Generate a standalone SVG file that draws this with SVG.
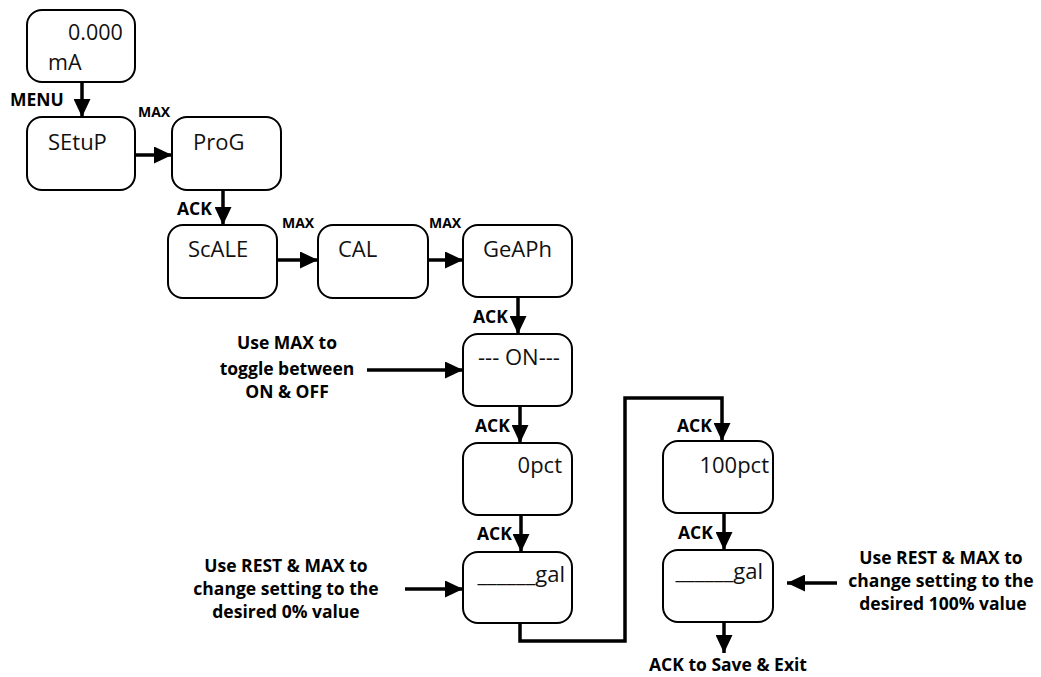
<svg xmlns="http://www.w3.org/2000/svg" width="1041" height="677" viewBox="0 0 1041 677">
<style>
.box{fill:#fff;stroke:#000;stroke-width:2}
.t{font-family:"Open Sans","Liberation Sans",sans-serif;font-size:22px;fill:#111}
.s{font-family:"Open Sans","Liberation Sans",sans-serif;font-size:21.5px;fill:#111}
.b{font-family:"Open Sans","Liberation Sans",sans-serif;font-weight:bold;font-size:17.5px;fill:#000}
.m{font-family:"Open Sans","Liberation Sans",sans-serif;font-weight:bold;font-size:14px;fill:#000}
.n{font-family:"Open Sans","Liberation Sans",sans-serif;font-weight:bold;font-size:17.5px;fill:#000;text-anchor:middle}
.c{fill:none;stroke:#000;stroke-width:3.5}
</style>
<defs>
<marker id="ah" viewBox="0 0 18 17" refX="18" refY="8.5" markerWidth="18" markerHeight="17" markerUnits="userSpaceOnUse" orient="auto">
<path d="M0,0 L18,8.5 L0,17 Z" fill="#000"/>
</marker>
</defs>
<rect width="1041" height="677" fill="#fff"/>
<g id="connectors">
<line class="c" x1="82" y1="82" x2="82" y2="117" marker-end="url(#ah)"/>
<line class="c" x1="135" y1="155" x2="172" y2="155" marker-end="url(#ah)"/>
<line class="c" x1="223" y1="190" x2="223" y2="225" marker-end="url(#ah)"/>
<line class="c" x1="277" y1="260" x2="318" y2="260" marker-end="url(#ah)"/>
<line class="c" x1="428" y1="260" x2="463" y2="260" marker-end="url(#ah)"/>
<line class="c" x1="518" y1="297" x2="518" y2="334" marker-end="url(#ah)"/>
<line class="c" x1="367" y1="370" x2="463" y2="370" marker-end="url(#ah)"/>
<line class="c" x1="520" y1="406" x2="520" y2="443" marker-end="url(#ah)"/>
<line class="c" x1="521" y1="515" x2="521" y2="552" marker-end="url(#ah)"/>
<line class="c" x1="405" y1="589" x2="463" y2="589" marker-end="url(#ah)"/>
<path class="c" d="M520,623 V641 H625 V398 H722 V441" marker-end="url(#ah)"/>
<line class="c" x1="724" y1="513" x2="724" y2="550" marker-end="url(#ah)"/>
<line class="c" x1="837" y1="583" x2="787" y2="583" marker-end="url(#ah)"/>
<line class="c" x1="724" y1="622" x2="724" y2="653" marker-end="url(#ah)"/>
</g>
<g id="n-display"><rect class="box" x="27" y="10" width="108" height="72" rx="15"/><text class="s" x="68" y="40">0.000</text><text class="s" x="48" y="70">mA</text></g>
<g id="n-setup"><rect class="box" x="27" y="117" width="108" height="73" rx="15"/><text class="t" x="48" y="150">SEtuP</text></g>
<g id="n-prog"><rect class="box" x="172" y="117" width="109" height="73" rx="15"/><text class="t" x="193" y="150">ProG</text></g>
<g id="n-scale"><rect class="box" x="168" y="225" width="109" height="73" rx="15"/><text class="t" x="188" y="257">ScALE</text></g>
<g id="n-cal"><rect class="box" x="318" y="225" width="110" height="73" rx="15"/><text class="t" x="338" y="257">CAL</text></g>
<g id="n-geaph"><rect class="box" x="463" y="225" width="109" height="72" rx="15"/><text class="t" x="483" y="257">GeAPh</text></g>
<g id="n-on"><rect class="box" x="463" y="334" width="109" height="72" rx="15"/><text class="t" x="478" y="365">--- ON---</text></g>
<g id="n-0pct"><rect class="box" x="463" y="443" width="109" height="72" rx="15"/><text class="t" x="562" y="473" text-anchor="end">0pct</text></g>
<g id="n-gal0"><rect class="box" x="463" y="552" width="109" height="71" rx="15"/><text class="t" x="565" y="582" text-anchor="end">______gal</text></g>
<g id="n-100pct"><rect class="box" x="663" y="441" width="110" height="72" rx="15"/><text class="t" x="769" y="473" text-anchor="end">100pct</text></g>
<g id="n-gal100"><rect class="box" x="663" y="550" width="110" height="72" rx="15"/><text class="t" x="763" y="579" text-anchor="end">______gal</text></g>
<g id="labels">
<text class="b" x="10" y="106">MENU</text>
<text class="m" x="138" y="117">MAX</text>
<text class="b" x="177" y="215">ACK</text>
<text class="m" x="282" y="228">MAX</text>
<text class="m" x="429" y="228">MAX</text>
<text class="b" x="473" y="323">ACK</text>
<text class="b" x="475" y="432">ACK</text>
<text class="b" x="477" y="540">ACK</text>
<text class="b" x="677" y="432">ACK</text>
<text class="b" x="678" y="539">ACK</text>
<text class="n" x="287" y="349">Use MAX to</text>
<text class="n" x="287" y="375">toggle between</text>
<text class="n" x="287" y="398">ON &amp; OFF</text>
<text class="n" x="286" y="572">Use REST &amp; MAX to</text>
<text class="n" x="286" y="595">change setting to the</text>
<text class="n" x="286" y="618">desired 0% value</text>
<text class="n" x="941" y="564">Use REST &amp; MAX to</text>
<text class="n" x="941" y="587">change setting to the</text>
<text class="n" x="943" y="610">desired 100% value</text>
<text class="n" x="728" y="671">ACK to Save &amp; Exit</text>
</g>
</svg>
